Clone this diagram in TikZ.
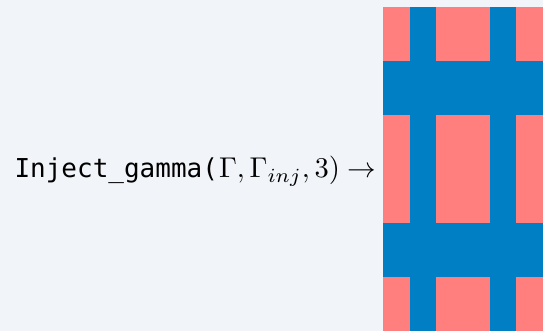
\documentclass[tikz,border=0pt]{standalone}
\usepackage{fontspec}
\newfontfamily\monofont{DejaVu Sans Mono}
\definecolor{bgcol}{HTML}{F1F4F9}
\definecolor{salmon}{HTML}{FF7F7F}
\definecolor{gridblue}{HTML}{007FC4}
\tikzset{calltext/.style={anchor=base west,inner sep=0pt,
    font=\fontsize{10}{12}\selectfont,transform shape}}
\begin{document}
\begin{tikzpicture}[x=1pt,y=1pt]
  \fill[bgcol] (0,0) rectangle (543,331);
  \useasboundingbox (0,0) rectangle (543,331);
  % the call, set at 10pt and blown up
  \node[calltext,scale=2.6] (call) at (14,153) {\monofont Inject\_gamma(};
  \node[calltext,scale=2.86] (args) at (call.base east) {$\Gamma,\Gamma_{inj},3)\rightarrow$};
  % injected grid, 6 by 6 cells
  \coordinate (G) at (383,0);
  \fill[salmon] (G) rectangle (543,324);
  \foreach \k in {1,4} {
    \fill[gridblue] (383+\k*160/6,0) rectangle (383+\k*160/6+160/6,324);
    \fill[gridblue] (383,324-\k*54) rectangle (543,324-\k*54-54);
  }
\end{tikzpicture}
\end{document}
